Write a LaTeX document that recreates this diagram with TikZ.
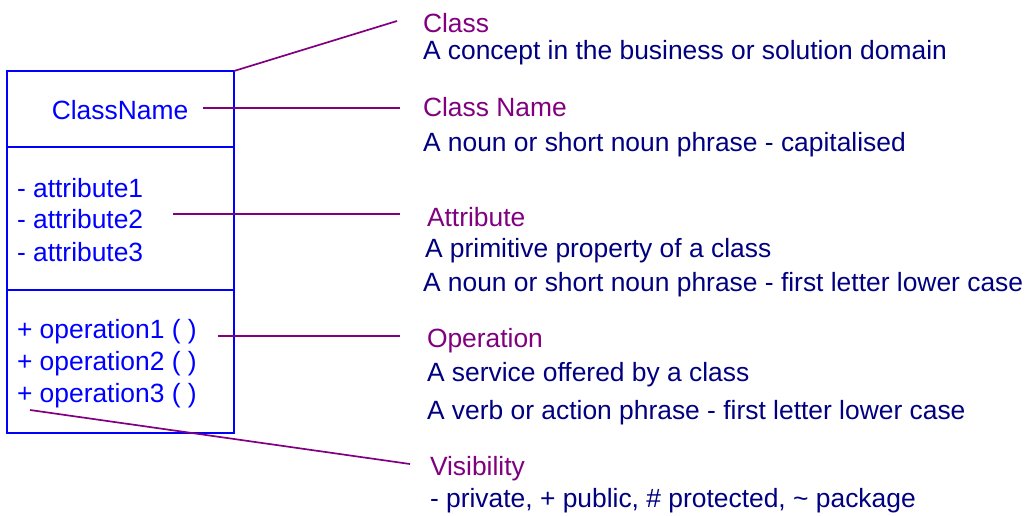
\documentclass[tikz,border=0pt]{standalone}
\usepackage{fontspec}
\setmainfont{Liberation Sans}
\definecolor{umlblue}{RGB}{0,0,255}
\definecolor{lblpurple}{RGB}{128,0,128}
\definecolor{descnavy}{RGB}{0,0,128}
\begin{document}
\begin{tikzpicture}[x=1pt,y=-1pt,
  every node/.style={inner sep=0pt,outer sep=0pt,font=\fontsize{26.4}{30}\selectfont},
  boxtxt/.style={text=umlblue,anchor=west},
  title/.style={text=lblpurple,anchor=west},
  desc/.style={text=descnavy,anchor=west},
  conn/.style={draw=lblpurple,line width=1.7pt},
  umlbox/.style={draw=umlblue,line width=1.8pt}]
\useasboundingbox (0,0) rectangle (1031,516);
% class box
\draw[umlbox] (7,71) rectangle (234,433);
\draw[umlbox] (7,147) -- (234,147);
\draw[umlbox] (7,290) -- (234,290);
\coordinate (corner) at (234,71);
\node[text=umlblue] (cname) at (120,110) {ClassName};
\node[boxtxt] (a1) at (17,188) {- attribute1};
\node[boxtxt] (a2) at (17,219) {- attribute2};
\node[boxtxt] (a3) at (17,252) {- attribute3};
\node[boxtxt] (o1) at (17,332) {+ operation1 ( )};
\node[boxtxt] (o2) at (17,364) {+ operation2 ( )};
\node[boxtxt] (o3) at (17,396) {+ operation3 ( )};
% labels
\node[title] (tclass) at (423,23) {Class};
\node[desc] (dclass) at (423,53) {A concept in the business or solution domain};
\node[title] (tname) at (423,107) {Class Name};
\node[desc] (dname) at (423,145) {A noun or short noun phrase - capitalised};
\node[title] (tattr) at (427,217) {Attribute};
\node[desc] (dattr1) at (425,251) {A primitive property of a class};
\node[desc] (dattr2) at (423,285) {A noun or short noun phrase - first letter lower case};
\node[title] (top) at (427,341) {Operation};
\node[desc] (dop1) at (427,375) {A service offered by a class};
\node[desc] (dop2) at (427,413) {A verb or action phrase - first letter lower case};
\node[title] (tvis) at (430,469) {Visibility};
\node[desc] (dvis) at (430,501) {- private, + public, \# protected, \textasciitilde\ package};
% connectors
\coordinate (cA) at (397,21);
\coordinate (nA) at (203,108);
\coordinate (nB) at (400,108);
\coordinate (aA) at (173,214);
\coordinate (aB) at (400,214);
\coordinate (oA) at (218,336);
\coordinate (oB) at (400,336);
\coordinate (vA) at (30,410);
\coordinate (vB) at (410,464);
\draw[conn] (corner) -- (cA);
\draw[conn] (nA) -- (nB);
\draw[conn] (aA) -- (aB);
\draw[conn] (oA) -- (oB);
\draw[conn] (vA) -- (vB);
\end{tikzpicture}
\end{document}
